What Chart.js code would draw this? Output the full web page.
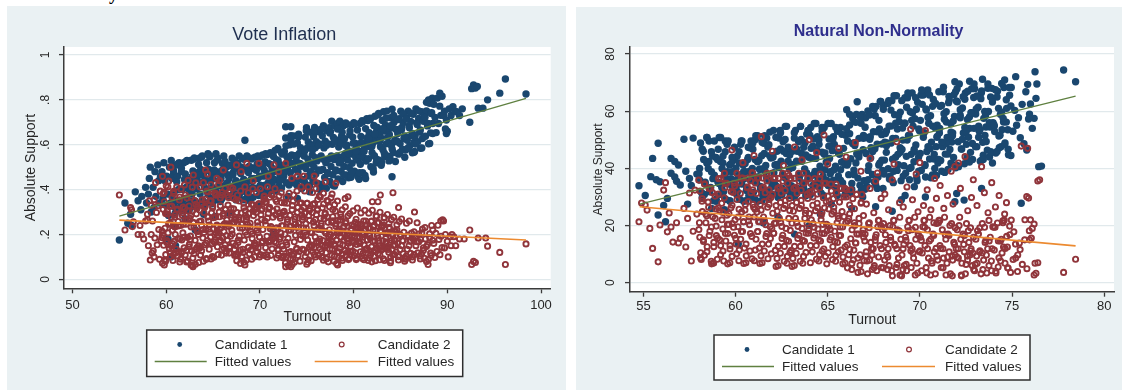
<!DOCTYPE html>
<html>
<head>
<meta charset="utf-8">
<script src="https://cdn.jsdelivr.net/npm/chart.js@4.4.1/dist/chart.umd.min.js"></script>
<style>
  html, body { margin: 0; padding: 0; background: #fff; width: 1122px; height: 390px; overflow: hidden; }
  .panel { position: absolute; background: #eaf1f3; }
  #p1 { left: 7px; top: 6px; width: 559px; height: 384px; }
  #p2 { left: 576px; top: 7px; width: 546px; height: 383px; }
  .panel canvas { position: absolute; left: 0; top: 0; }
  #cut { position: absolute; left: 109px; top: -15px; font: bold 18px "Liberation Serif", serif; line-height: 18px; color: #000; }
</style>
</head>
<body>
<div id="cut">y</div>
<div class="panel" id="p1"><canvas id="c1" width="559" height="384" style="width:559px;height:384px"></canvas></div>
<div class="panel" id="p2"><canvas id="c2" width="546" height="383" style="width:546px;height:383px"></canvas></div>
<script>
// ---- shared labels ----
const seriesLabels = ['Candidate 1', 'Candidate 2', 'Fitted values', 'Fitted values'];
const xTitle = 'Turnout';
const yTitle = 'Absolute Support';

// ---- Vote Inflation panel ----
const voteTitle = 'Vote Inflation';
const voteXTicks = [50, 60, 70, 80, 90, 100];
const voteYTicks = [0, 0.2, 0.4, 0.6, 0.8, 1];
const voteYLabels = ['0', '.2', '.4', '.6', '.8', '1'];
const voteFit1 = [[55.0, .282], [98.4, .807]];
const voteFit2 = [[55.0, .264], [98.4, .175]];
const voteCand1 = [
[55.0,.175],[55.6,.34],[55.9,.25],[56.3,.24],[56.2,.29],[56.7,.39],[57.0,.35],[57.4,.37],[57.3,.31],[57.8,.41],[57.9,.34],[58.2,.45],[58.3,.50],[58.1,.38],[58.4,.30],
[58.6,.41],[58.7,.32],[58.8,.48],[58.9,.37],[59.1,.51],[59.2,.44],[59.3,.34],[59.4,.46],
[59.55,.48],[59.65,.36],[59.75,.52],[59.85,.44],[59.95,.33],[60.05,.46],[60.15,.38],[60.25,.285],[60.35,.50],[60.45,.34],[60.2,.18],[60.5,.10],
[60.54,.53],[60.62,.45],[60.71,.335],[60.79,.47],[60.87,.39],[60.96,.295],[61.04,.51],[61.12,.35],[61.21,.46],[61.29,.40],[61.37,.52],[61.46,.32],[61.0,.15],[60.8,.24],
[61.54,.345],[61.62,.48],[61.71,.40],[61.79,.305],[61.87,.52],[61.96,.36],[62.04,.47],[62.12,.41],[62.21,.53],[62.29,.33],[62.37,.445],[62.46,.39],
[62.54,.416],[62.62,.325],[62.69,.531],[62.77,.38],[62.85,.483],[62.92,.428],[63.0,.541],[63.08,.349],[63.15,.459],[63.23,.404],[63.31,.44],[63.38,.339],[63.46,.512],
[63.54,.54],[63.62,.38],[63.69,.49],[63.77,.43],[63.85,.55],[63.92,.35],[64.0,.465],[64.08,.41],[64.15,.445],[64.23,.34],[64.31,.52],[64.38,.395],[64.46,.56],
[64.54,.49],[64.62,.44],[64.69,.55],[64.77,.36],[64.85,.47],[64.92,.41],[65.0,.45],[65.08,.35],[65.15,.52],[65.23,.40],[65.31,.56],[65.38,.48],[65.46,.37],
[65.54,.54],[65.62,.366],[65.69,.468],[65.77,.417],[65.85,.45],[65.92,.358],[66.0,.516],[66.08,.406],[66.15,.55],[66.23,.476],[66.31,.38],[66.38,.498],[66.46,.428],
[66.54,.466],[66.62,.42],[66.71,.45],[66.79,.366],[66.87,.51],[66.96,.41],[67.04,.54],[67.12,.474],[67.21,.386],[67.29,.494],[67.37,.43],[67.46,.354],[66.7,.295],
[67.54,.367],[67.62,.518],[67.71,.413],[67.79,.55],[67.87,.48],[67.96,.388],[68.04,.50],[68.12,.434],[68.21,.354],[68.29,.535],[68.37,.40],[68.46,.493],[68.4,.62],
[68.54,.42],[68.62,.55],[68.71,.484],[68.79,.396],[68.87,.504],[68.96,.44],[69.04,.364],[69.12,.536],[69.21,.41],[69.29,.496],[69.37,.45],[69.46,.544],[68.9,.35],
[69.54,.494],[69.62,.406],[69.71,.514],[69.79,.45],[69.87,.374],[69.96,.546],[70.04,.42],[70.12,.506],[70.21,.46],[70.29,.554],[70.37,.394],[70.46,.486],
[70.54,.524],[70.62,.46],[70.71,.384],[70.79,.556],[70.87,.43],[70.96,.516],[71.04,.47],[71.12,.564],[71.21,.404],[71.29,.496],[71.37,.45],[71.46,.48],[71.4,.20],
[71.54,.394],[71.62,.575],[71.69,.443],[71.77,.533],[71.85,.485],[71.92,.583],[72.0,.415],[72.08,.512],[72.15,.464],[72.23,.495],[72.31,.407],[72.38,.558],[72.46,.453],
[72.54,.46],[72.61,.57],[72.68,.51],[72.75,.63],[72.82,.43],[72.89,.545],[72.96,.49],[73.04,.525],[73.11,.42],[73.18,.60],[73.25,.475],[73.32,.64],[73.39,.555],[73.46,.445],[72.75,.68],[73.3,.68],[73.0,.37],
[73.53,.517],[73.6,.639],[73.67,.431],[73.73,.551],[73.8,.491],[73.87,.53],[73.93,.421],[74.0,.608],[74.07,.478],[74.13,.647],[74.2,.561],[74.27,.447],[74.33,.587],[74.4,.504],[74.47,.405],[74.0,.36],
[74.53,.444],[74.59,.572],[74.66,.508],[74.72,.55],[74.78,.432],[74.84,.634],[74.91,.494],[74.97,.676],[75.03,.584],[75.09,.46],[75.16,.612],[75.22,.522],[75.28,.416],[75.34,.656],[75.41,.48],[75.47,.60],[75.3,.39],
[75.53,.515],[75.59,.555],[75.66,.442],[75.72,.636],[75.78,.50],[75.84,.677],[75.91,.587],[75.97,.469],[76.03,.614],[76.09,.528],[76.16,.425],[76.22,.658],[76.28,.488],[76.34,.604],[76.41,.542],[76.47,.668],[76.4,.40],
[76.53,.55],[76.59,.424],[76.66,.64],[76.72,.49],[76.78,.685],[76.84,.586],[76.91,.454],[76.97,.616],[77.03,.52],[77.09,.406],[77.16,.664],[77.22,.475],[77.28,.604],[77.34,.535],[77.41,.676],[77.47,.436],
[77.53,.658],[77.59,.503],[77.66,.705],[77.72,.602],[77.78,.466],[77.84,.633],[77.91,.534],[77.97,.416],[78.03,.683],[78.09,.488],[78.16,.621],[78.22,.55],[78.28,.695],[78.34,.447],[78.41,.59],[78.47,.519],
[78.53,.705],[78.59,.61],[78.66,.482],[78.72,.639],[78.78,.546],[78.84,.436],[78.91,.685],[78.97,.503],[79.03,.627],[79.09,.56],[79.16,.697],[79.22,.465],[79.28,.598],[79.34,.532],[79.41,.575],[79.47,.453],
[79.53,.499],[79.59,.644],[79.66,.558],[79.72,.455],[79.78,.688],[79.84,.518],[79.91,.634],[79.97,.572],[80.03,.698],[80.09,.482],[80.16,.607],[80.22,.545],[80.28,.585],[80.34,.472],[80.41,.666],[80.47,.531],
[80.53,.556],[80.59,.446],[80.66,.695],[80.72,.513],[80.78,.637],[80.84,.571],[80.91,.707],[80.97,.475],[81.03,.608],[81.09,.542],[81.16,.585],[81.22,.463],[81.28,.672],[81.34,.527],[81.41,.716],[81.47,.62],
[81.53,.708],[81.59,.538],[81.66,.654],[81.72,.592],[81.78,.718],[81.84,.502],[81.91,.627],[81.97,.565],[82.03,.605],[82.09,.492],[82.16,.686],[82.22,.551],[82.28,.727],[82.34,.637],[82.41,.519],[82.47,.664],
[82.53,.677],[82.6,.617],[82.67,.739],[82.73,.531],[82.8,.651],[82.87,.591],[82.93,.63],[83.0,.521],[83.07,.708],[83.13,.578],[83.2,.747],[83.27,.661],[83.33,.547],[83.4,.687],[83.47,.604],
[83.54,.75],[83.61,.55],[83.68,.665],[83.75,.608],[83.82,.645],[83.89,.54],[83.96,.72],[84.04,.595],[84.11,.758],[84.18,.675],[84.25,.565],[84.32,.70],[84.39,.62],[84.46,.525],[84.1,.457],
[84.54,.668],[84.62,.617],[84.71,.65],[84.79,.558],[84.87,.716],[84.96,.606],[85.04,.749],[85.12,.676],[85.21,.58],[85.29,.698],[85.37,.628],[85.46,.544],
[85.55,.576],[85.64,.72],[85.73,.62],[85.82,.75],[85.91,.684],[86.0,.596],[86.09,.704],[86.18,.64],[86.27,.564],[86.36,.736],[86.45,.61],[86.5,.57],
[86.55,.637],[86.65,.76],[86.75,.698],[86.85,.614],[86.95,.717],[87.05,.656],[87.15,.584],[87.25,.747],[87.35,.628],[87.45,.709],
[87.56,.73],[87.67,.638],[87.78,.751],[87.89,.684],[88.0,.604],[88.11,.785],[88.22,.653],[88.33,.743],[88.44,.695],[88.4,.807],[88.0,.80],
[88.56,.78],[88.69,.722],[88.81,.654],[88.94,.808],[89.06,.695],[89.19,.772],[89.31,.731],[89.44,.816],[89.2,.83],
[89.6,.73],[89.7,.75],[89.8,.67],[89.9,.65],[89.9,.71],[90.0,.66],[90.2,.76],[90.4,.73],
[90.6,.77],[90.8,.75],[91.0,.747],[91.3,.73],[91.6,.76],[92.4,.70],[92.6,.85],[92.8,.866],[93.0,.853],[93.2,.86],[93.3,.763],[93.8,.763],[94.3,.80],[95.6,.83],[96.2,.893],[98.4,.826],
[63.1,.22],[64.0,.29],[62.0,.27],[65.2,.28],[69.8,.33],
[60.62,.373],[60.78,.485],[60.95,.32],[61.12,.435],[61.28,.515],[61.45,.403],
[61.62,.495],[61.78,.33],[61.95,.445],[62.12,.525],[62.28,.413],[62.45,.308],
[62.62,.349],[62.78,.459],[62.95,.536],[63.12,.428],[63.28,.327],[63.45,.478],
[63.62,.465],[63.78,.545],[63.95,.433],[64.12,.328],[64.28,.485],[64.45,.38],
[64.62,.546],[64.78,.438],[64.95,.337],[65.12,.488],[65.28,.388],[65.45,.532],
[65.62,.439],[65.78,.347],[65.95,.485],[66.12,.393],[66.28,.525],[66.45,.424],
[66.62,.416],[66.78,.506],[66.95,.374],[67.12,.466],[67.28,.53],[67.45,.44],
[67.62,.514],[67.78,.375],[67.95,.472],[68.12,.539],[68.28,.445],[68.45,.356],
[68.62,.384],[68.78,.476],[68.95,.54],[69.12,.45],[69.28,.366],[69.45,.492],
[69.62,.486],[69.78,.55],[69.95,.46],[70.12,.376],[70.28,.502],[70.45,.418],
[70.62,.56],[70.78,.47],[70.95,.386],[71.12,.512],[71.28,.428],[71.45,.548],
[71.62,.485],[71.78,.396],[71.95,.529],[72.12,.44],[72.28,.566],[72.45,.47],
[72.62,.483],[72.78,.595],[72.95,.43],[73.12,.545],[73.28,.625],[73.45,.513],
[73.62,.603],[73.78,.431],[73.95,.551],[74.12,.634],[74.28,.517],[74.45,.408],
[74.62,.444],[74.78,.572],[74.95,.662],[75.12,.536],[75.28,.418],[75.45,.595],
[75.62,.577],[75.78,.663],[75.95,.542],[76.12,.428],[76.28,.598],[76.45,.485],
[76.62,.67],[76.78,.535],[76.95,.409],[77.12,.598],[77.28,.472],[77.45,.652],
[77.62,.55],[77.78,.419],[77.95,.615],[78.12,.484],[78.28,.67],[78.45,.528],
[78.62,.526],[78.78,.656],[78.95,.465],[79.12,.598],[79.28,.691],[79.45,.56],
[79.62,.661],[79.78,.482],[79.95,.607],[80.12,.693],[80.28,.572],[80.45,.458],
[80.62,.475],[80.78,.608],[80.95,.701],[81.12,.571],[81.28,.449],[81.45,.631],
[81.62,.627],[81.78,.713],[81.95,.592],[82.12,.478],[82.28,.648],[82.45,.535],
[82.62,.734],[82.78,.617],[82.95,.508],[83.12,.672],[83.28,.562],[83.45,.718],
[83.62,.633],[83.78,.528],[83.95,.685],[84.12,.58],[84.28,.73],[84.45,.615],
[84.62,.613],[84.78,.712],[84.95,.566],[85.12,.668],[85.28,.738],[85.45,.639],
[85.62,.716],[85.78,.584],[85.95,.676],[86.12,.74],[86.28,.65],[86.45,.566],
[86.62,.603],[86.78,.69],[86.95,.751],[87.12,.666],[87.28,.586],[87.45,.705],
[87.62,.722],[87.78,.789],[87.95,.695],[88.12,.606],[88.28,.739],[88.45,.65]
];
const voteCand2 = [
[55.0,.376],[55.6,.22],[56.2,.32],[56.3,.31],[56.5,.257],[56.4,.235],[57.0,.20],[57.4,.20],[57.6,.18],[57.8,.26],[58.0,.29],[58.0,.265],[58.2,.35],[58.4,.33],[58.3,.086],[58.5,.117],[58.7,.10],[57.2,.24],[58.1,.15],[58.4,.20],
[58.54,.26],[58.62,.127],[58.71,.355],[58.79,.184],[58.87,.431],[58.96,.298],[59.04,.154],[59.12,.328],[59.21,.222],[59.29,.089],[59.37,.393],[59.46,.173],
[59.53,.186],[59.6,.459],[59.67,.312],[59.73,.152],[59.8,.346],[59.87,.228],[59.93,.081],[60.0,.417],[60.07,.173],[60.13,.291],[60.2,.207],[60.27,.249],[60.33,.136],[60.4,.325],[60.47,.102],[60.5,.50],[59.6,.072],[59.8,.064],
[60.53,.15],[60.59,.327],[60.66,.219],[60.72,.084],[60.78,.392],[60.84,.169],[60.91,.277],[60.97,.20],[61.03,.238],[61.09,.134],[61.16,.308],[61.22,.104],[61.28,.258],[61.34,.123],[61.41,.354],[61.47,.18],
[61.53,.09],[61.59,.402],[61.66,.175],[61.72,.285],[61.78,.207],[61.84,.246],[61.91,.14],[61.97,.316],[62.03,.109],[62.09,.265],[62.16,.129],[62.22,.363],[62.28,.187],[62.34,.441],[62.41,.304],[62.47,.156],
[62.53,.272],[62.59,.193],[62.66,.233],[62.72,.126],[62.78,.304],[62.84,.095],[62.91,.253],[62.97,.114],[63.03,.351],[63.09,.174],[63.16,.43],[63.22,.292],[63.28,.142],[63.34,.324],[63.41,.213],[63.47,.075],[62.9,.465],[62.65,.064],[62.86,.056],
[63.53,.138],[63.59,.309],[63.66,.108],[63.72,.26],[63.78,.127],[63.84,.355],[63.91,.184],[63.97,.431],[64.03,.298],[64.09,.154],[64.16,.328],[64.22,.222],[64.28,.089],[64.34,.393],[64.41,.173],[64.47,.279],[64.2,.487],[64.4,.47],
[64.53,.26],[64.59,.134],[64.66,.35],[64.72,.188],[64.78,.422],[64.84,.296],[64.91,.159],[64.97,.325],[65.03,.224],[65.09,.098],[65.16,.386],[65.22,.177],[65.28,.278],[65.34,.206],[65.41,.242],[65.47,.145],[65.4,.45],
[65.53,.195],[65.59,.423],[65.66,.30],[65.72,.167],[65.78,.328],[65.84,.23],[65.91,.108],[65.97,.388],[66.03,.185],[66.09,.283],[66.16,.213],[66.22,.248],[66.28,.153],[66.34,.311],[66.41,.125],[66.47,.265],[66.1,.487],[65.7,.44],[66.4,.117],
[66.53,.175],[66.6,.331],[66.67,.236],[66.73,.117],[66.8,.389],[66.87,.192],[66.93,.287],[67.0,.219],[67.07,.253],[67.13,.161],[67.2,.314],[67.27,.134],[67.33,.27],[67.4,.151],[67.47,.355],[67.5,.51],[66.9,.41],
[67.53,.083],[67.6,.375],[67.67,.164],[67.73,.266],[67.8,.193],[67.87,.229],[67.93,.131],[68.0,.295],[68.07,.102],[68.13,.248],[68.2,.12],[68.27,.339],[68.33,.175],[68.4,.412],[68.47,.284],[68.0,.48],[68.4,.064],
[68.54,.267],[68.61,.199],[68.68,.233],[68.75,.141],[68.82,.294],[68.89,.114],[68.96,.25],[69.04,.131],[69.11,.335],[69.18,.182],[69.25,.403],[69.32,.284],[69.39,.155],[69.46,.311],[68.6,.517],[69.3,.44],
[69.54,.149],[69.61,.298],[69.68,.123],[69.75,.255],[69.82,.14],[69.89,.338],[69.96,.189],[70.04,.404],[70.11,.288],[70.18,.163],[70.25,.314],[70.32,.222],[70.39,.107],[70.46,.371],[69.9,.517],[69.7,.123],
[70.54,.26],[70.61,.141],[70.68,.345],[70.75,.192],[70.82,.413],[70.89,.294],[70.96,.165],[71.04,.321],[71.11,.226],[71.18,.107],[71.25,.379],[71.32,.182],[71.39,.277],[71.46,.209],[71.5,.51],[70.9,.46],
[71.54,.189],[71.61,.404],[71.68,.288],[71.75,.163],[71.82,.314],[71.89,.222],[71.96,.107],[72.04,.371],[72.11,.179],[72.18,.272],[72.25,.206],[72.32,.239],[72.39,.149],[72.46,.298],[71.8,.095],[72.4,.10],[72.0,.48],
[72.53,.135],[72.6,.303],[72.67,.201],[72.73,.073],[72.8,.365],[72.87,.154],[72.93,.256],[73.0,.183],[73.07,.219],[73.13,.121],[73.2,.285],[73.27,.092],[73.33,.238],[73.4,.11],[73.47,.329],[72.75,.517],[72.75,.056],[73.3,.056],
[73.53,.088],[73.6,.376],[73.67,.167],[73.73,.268],[73.8,.196],[73.87,.232],[73.93,.135],[74.0,.297],[74.07,.106],[74.13,.25],[74.2,.124],[74.27,.34],[74.33,.178],[74.4,.412],[74.47,.286],[73.4,.45],[74.0,.46],
[74.53,.266],[74.59,.193],[74.66,.229],[74.72,.131],[74.78,.295],[74.84,.102],[74.91,.248],[74.97,.12],[75.03,.339],[75.09,.175],[75.16,.412],[75.22,.284],[75.28,.145],[75.34,.313],[75.41,.211],[75.47,.083],[74.7,.46],[75.0,.067],
[75.53,.149],[75.59,.298],[75.66,.123],[75.72,.255],[75.78,.14],[75.84,.338],[75.91,.189],[75.97,.404],[76.03,.288],[76.09,.163],[76.16,.314],[76.22,.222],[76.28,.107],[76.34,.371],[76.41,.179],[76.47,.272],[75.8,.46],[76.6,.098],[76.0,.43],
[76.53,.238],[76.59,.124],[76.66,.319],[76.72,.173],[76.78,.384],[76.84,.27],[76.91,.147],[76.97,.296],[77.03,.205],[77.09,.091],[77.16,.351],[77.22,.163],[77.28,.254],[77.34,.189],[77.41,.221],[77.47,.134],[77.0,.435],[77.3,.078],
[77.53,.16],[77.59,.364],[77.66,.254],[77.72,.134],[77.78,.279],[77.84,.191],[77.91,.081],[77.97,.333],[78.03,.15],[78.09,.238],[78.16,.175],[78.22,.207],[78.28,.122],[78.34,.263],[78.41,.097],[78.47,.223],[78.1,.428],[78.3,.064],[77.7,.38],
[78.53,.139],[78.59,.264],[78.66,.188],[78.72,.094],[78.78,.31],[78.84,.153],[78.91,.229],[78.97,.175],[79.03,.202],[79.09,.129],[79.16,.25],[79.22,.107],[79.28,.215],[79.34,.121],[79.41,.283],[79.47,.161],[79.4,.368],[79.1,.36],
[79.53,.093],[79.6,.293],[79.67,.148],[79.73,.218],[79.8,.168],[79.87,.193],[79.93,.125],[80.0,.238],[80.07,.105],[80.13,.205],[80.2,.118],[80.27,.268],[80.33,.155],[80.4,.318],[80.47,.23],
[80.53,.212],[80.6,.164],[80.67,.188],[80.73,.123],[80.8,.231],[80.87,.104],[80.93,.20],[81.0,.116],[81.07,.26],[81.13,.152],[81.2,.308],[81.27,.224],[81.33,.133],[81.4,.243],[81.47,.176],
[81.53,.115],[81.6,.228],[81.67,.095],[81.73,.195],[81.8,.108],[81.87,.258],[81.93,.145],[82.0,.308],[82.07,.22],[82.13,.125],[82.2,.24],[82.27,.17],[82.33,.083],[82.4,.283],[82.47,.138],[82.0,.346],[82.6,.346],
[82.54,.195],[82.61,.115],[82.68,.253],[82.75,.149],[82.82,.299],[82.89,.218],[82.96,.131],[83.04,.236],[83.11,.172],[83.18,.092],[83.25,.276],[83.32,.142],[83.39,.207],[83.46,.161],[82.85,.376],
[83.54,.139],[83.61,.289],[83.68,.208],[83.75,.121],[83.82,.226],[83.89,.162],[83.96,.082],[84.04,.266],[84.11,.132],[84.18,.197],[84.25,.151],[84.32,.174],[84.39,.111],[84.46,.215],[84.2,.386],
[84.54,.122],[84.62,.221],[84.71,.161],[84.79,.086],[84.87,.258],[84.96,.133],[85.04,.193],[85.12,.15],[85.21,.172],[85.29,.114],[85.37,.21],[85.46,.097],[84.8,.32],
[85.55,.09],[85.64,.25],[85.73,.134],[85.82,.19],[85.91,.15],[86.0,.17],[86.09,.116],[86.18,.206],[86.27,.10],[86.36,.18],[86.45,.11],[86.5,.30],
[86.55,.187],[86.65,.15],[86.75,.168],[86.85,.118],[86.95,.202],[87.05,.104],[87.15,.178],[87.25,.113],[87.35,.224],[87.45,.14],
[87.56,.094],[87.67,.18],[87.78,.079],[87.89,.155],[88.0,.089],[88.11,.203],[88.22,.117],[88.33,.24],[88.44,.174],
[88.56,.16],[88.67,.097],[88.78,.205],[88.89,.124],[89.0,.241],[89.11,.178],[89.22,.11],[89.33,.192],[89.44,.142],[89.3,.26],[89.5,.265],
[89.6,.26],[89.7,.14],[89.8,.20],[90.0,.17],[90.1,.10],[90.3,.19],[90.4,.15],[90.5,.20],[90.7,.19],[90.9,.15],[91.3,.18],[91.8,.18],[92.4,.22],[92.6,.066],[92.8,.08],[93.0,.075],[93.3,.184],[94.1,.184],[94.3,.148],[95.6,.12],[96.2,.066],[98.4,.158],
[59.62,.199],[59.78,.388],[59.95,.11],[60.12,.304],[60.28,.438],[60.45,.249],
[60.62,.365],[60.78,.111],[60.95,.288],[61.12,.412],[61.28,.238],[61.45,.077],
[61.62,.117],[61.78,.296],[61.95,.421],[62.12,.246],[62.28,.082],[62.45,.327],
[62.62,.284],[62.78,.411],[62.95,.233],[63.12,.067],[63.28,.316],[63.45,.15],
[63.62,.412],[63.78,.241],[63.95,.081],[64.12,.321],[64.28,.161],[64.45,.389],
[64.62,.242],[64.78,.091],[64.95,.318],[65.12,.166],[65.28,.382],[65.45,.217],
[65.62,.206],[65.78,.363],[65.95,.132],[66.12,.293],[66.28,.405],[66.45,.248],
[66.62,.365],[66.78,.141],[66.95,.297],[67.12,.406],[67.28,.253],[67.45,.11],
[67.62,.109],[67.78,.277],[67.95,.394],[68.12,.229],[68.28,.076],[68.45,.306],
[68.62,.277],[68.78,.386],[68.95,.233],[69.12,.09],[69.28,.304],[69.45,.162],
[69.62,.387],[69.78,.239],[69.95,.10],[70.12,.308],[70.28,.169],[70.45,.367],
[70.62,.243],[70.78,.10],[70.95,.314],[71.12,.172],[71.28,.376],[71.45,.219],
[71.62,.199],[71.78,.347],[71.95,.13],[72.12,.281],[72.28,.387],[72.45,.239],
[72.62,.34],[72.78,.099],[72.95,.267],[73.12,.384],[73.28,.219],[73.45,.066],
[73.62,.113],[73.78,.279],[73.95,.394],[74.12,.232],[74.28,.081],[74.45,.308],
[74.62,.277],[74.78,.394],[74.95,.229],[75.12,.076],[75.28,.306],[75.45,.153],
[75.62,.387],[75.78,.239],[75.95,.10],[76.12,.308],[76.28,.169],[76.45,.367],
[76.62,.221],[76.78,.085],[76.95,.29],[77.12,.153],[77.28,.348],[77.45,.199],
[77.62,.169],[77.78,.311],[77.95,.103],[78.12,.248],[78.28,.349],[78.45,.207],
[78.62,.291],[78.78,.112],[78.95,.237],[79.12,.323],[79.28,.202],[79.45,.088],
[79.62,.11],[79.78,.225],[79.95,.305],[80.12,.193],[80.28,.088],[80.45,.245],
[80.62,.219],[80.78,.296],[80.95,.188],[81.12,.087],[81.28,.238],[81.45,.138],
[81.62,.295],[81.78,.183],[81.95,.078],[82.12,.235],[82.28,.13],[82.45,.28],
[82.62,.184],[82.78,.087],[82.95,.232],[83.12,.135],[83.28,.273],[83.45,.167],
[83.62,.146],[83.78,.249],[83.95,.098],[84.12,.203],[84.28,.277],[84.45,.174],
[84.62,.243],[84.78,.101],[84.95,.20],[85.12,.269],[85.28,.172],[85.45,.081],
[85.62,.104],[85.78,.196],[85.95,.26],[86.12,.17],[86.28,.086],[86.45,.212],
[86.62,.192],[86.78,.252],[86.95,.168],[87.12,.091],[87.28,.207],[87.45,.129],
[87.62,.231],[87.78,.146],[87.95,.066],[88.12,.185],[88.28,.106],[88.45,.22],
[59.55,.215],[59.68,.382],[59.8,.086],[59.93,.293],[60.05,.164],[60.18,.412],[60.3,.245],[60.43,.119],
[60.55,.276],[60.68,.159],[60.8,.383],[60.93,.233],[61.05,.119],[61.18,.313],[61.3,.182],[61.43,.367],
[61.55,.24],[61.68,.124],[61.8,.322],[61.93,.189],[62.05,.376],[62.18,.077],[62.3,.264],[62.43,.145],
[62.55,.176],[62.68,.366],[62.8,.062],[62.93,.252],[63.05,.131],[63.18,.334],[63.3,.214],[63.43,.20],
[63.55,.258],[63.68,.143],[63.8,.337],[63.93,.222],[64.05,.209],[64.18,.357],[64.3,.093],[64.43,.278],
[64.55,.223],[64.68,.21],[64.8,.35],[64.93,.102],[65.05,.275],[65.18,.167],[65.3,.375],[65.43,.235],
[65.55,.111],[65.68,.279],[65.8,.174],[65.93,.375],[66.05,.24],[66.18,.138],[66.3,.312],[66.43,.195],
[66.55,.376],[66.68,.245],[66.8,.146],[66.93,.315],[67.05,.202],[67.18,.361],[67.3,.106],[67.43,.265],
[67.55,.298],[67.68,.175],[67.8,.349],[67.93,.071],[68.05,.245],[68.18,.134],[68.3,.32],[68.43,.21],
[68.55,.086],[68.68,.245],[68.8,.144],[68.93,.315],[69.05,.213],[69.18,.202],[69.3,.332],[69.43,.10],
[69.55,.317],[69.68,.219],[69.8,.208],[69.93,.334],[70.05,.11],[70.18,.266],[70.3,.168],[70.43,.356],
[70.55,.342],[70.68,.11],[70.8,.273],[70.93,.171],[71.05,.366],[71.18,.235],[71.3,.136],[71.43,.305],
[71.55,.168],[71.68,.356],[71.8,.23],[71.93,.135],[72.05,.297],[72.18,.188],[72.3,.342],[72.43,.096],
[72.55,.105],[72.68,.288],[72.8,.165],[72.93,.339],[73.05,.061],[73.18,.235],[73.3,.124],[73.43,.31],
[73.55,.349],[73.68,.076],[73.8,.247],[73.93,.138],[74.05,.321],[74.18,.213],[74.3,.20],[74.43,.34],
[74.55,.134],[74.68,.32],[74.8,.21],[74.93,.197],[75.05,.339],[75.18,.087],[75.3,.263],[75.43,.153],
[75.55,.208],[75.68,.334],[75.8,.11],[75.93,.266],[76.05,.168],[76.18,.356],[76.3,.23],[76.43,.135],
[76.55,.248],[76.68,.152],[76.8,.336],[76.93,.213],[77.05,.119],[77.18,.279],[77.3,.171],[77.43,.323],
[77.55,.198],[77.68,.107],[77.8,.261],[77.93,.158],[78.05,.304],[78.18,.07],[78.3,.216],[78.43,.123],
[78.55,.157],[78.68,.278],[78.8,.084],[78.93,.205],[79.05,.128],[79.18,.258],[79.3,.181],[79.43,.172],
[79.55,.194],[79.68,.124],[79.8,.242],[79.93,.172],[80.05,.164],[80.18,.254],[80.3,.094],[80.43,.206],
[80.55,.167],[80.68,.16],[80.8,.245],[80.93,.093],[81.05,.20],[81.18,.133],[81.3,.26],[81.43,.175],
[81.55,.084],[81.68,.196],[81.8,.126],[81.93,.26],[82.05,.17],[82.18,.102],[82.3,.218],[82.43,.14],
[82.55,.251],[82.68,.17],[82.8,.109],[82.93,.213],[83.05,.143],[83.18,.242],[83.3,.084],[83.43,.183],
[83.55,.203],[83.68,.133],[83.8,.232],[83.93,.074],[84.05,.173],[84.18,.11],[84.3,.216],[84.43,.153]
];

// ---- Natural Non-Normality panel ----
const natTitle = 'Natural Non-Normality';
const natXTicks = [55, 60, 65, 70, 75, 80];
const natYTicks = [0, 20, 40, 60, 80];
const natYLabels = ['0', '20', '40', '60', '80'];
const natFit1 = [[54.8, 27.5], [78.45, 65.3]];
const natFit2 = [[54.8, 26.6], [78.45, 12.9]];
const natCand1 = [
[54.76,33.9],[55.1,30.5],[55.8,48.8],[55.5,43.5],[55.4,37.1],[55.7,36],[55.9,35.3],[55.8,23.7],[56.2,21.3],[56.5,43.5],[56.7,42.4],[56.9,41.2],[56.5,38.3],[56.7,37],[56.8,35.5],[57,34.2],[56.3,29.5],[57.3,39],[57.5,36.5],[57.6,34],[57.7,50.6],[57.2,50.2],[57.9,38],[57.4,27.5],[56.1,27],
[58.05,40],[58.15,31.6],[58.25,46],[58.35,35.2],[58.45,50.8],[58.55,42.4],[58.65,33.3],[58.75,44.3],[58.85,37.6],[58.95,29.2],
[59.04,35.2],[59.11,50.8],[59.18,42.4],[59.25,33.3],[59.32,44.3],[59.39,37.6],[59.46,29.2],[59.54,48.4],[59.61,34.5],[59.68,41.2],[59.75,36.4],[59.82,38.8],[59.89,32.3],[59.96,43.1],
[60.03,33.3],[60.09,44.3],[60.16,37.6],[60.22,29.2],[60.28,48.4],[60.34,34.5],[60.41,41.2],[60.47,36.4],[60.53,38.8],[60.59,32.3],[60.66,43.1],[60.72,30.4],[60.78,47.2],[60.84,49.6],[60.91,40],[60.97,31.6],
[61.03,29.3],[61.08,50.1],[61.14,35],[61.19,42.3],[61.25,37.1],[61.31,39.7],[61.36,32.7],[61.42,44.4],[61.47,30.6],[61.53,48.8],[61.58,51.4],[61.64,41],[61.7,31.9],[61.75,47.5],[61.81,35.8],[61.86,52.7],[61.92,43.6],[61.97,33.7],
[62.03,43.9],[62.08,38.5],[62.14,41.2],[62.19,33.9],[62.25,46],[62.31,31.7],[62.36,50.6],[62.42,53.3],[62.47,42.5],[62.53,33],[62.58,49.3],[62.64,37.1],[62.7,54.7],[62.75,45.2],[62.81,34.9],[62.86,47.4],[62.92,39.8],[62.97,30.4],
[63.03,33.9],[63.08,46],[63.14,31.7],[63.19,50.6],[63.25,53.3],[63.31,42.5],[63.36,33],[63.42,49.3],[63.47,37.1],[63.53,54.7],[63.58,45.2],[63.64,34.9],[63.7,47.4],[63.75,39.8],[63.81,30.4],[63.86,52],[63.92,36.3],[63.97,43.9],
[64.03,51.6],[64.08,54.3],[64.14,43.5],[64.19,34],[64.25,50.3],[64.31,38.1],[64.36,55.7],[64.42,46.2],[64.47,35.9],[64.53,48.4],[64.58,40.8],[64.64,31.4],[64.7,53],[64.75,37.3],[64.81,44.9],[64.86,39.5],[64.92,42.2],[64.97,34.9],
[65.03,34],[65.08,50.3],[65.14,38.1],[65.19,55.7],[65.25,46.2],[65.31,35.9],[65.36,48.4],[65.42,40.8],[65.47,31.4],[65.53,53],[65.58,37.3],[65.64,44.9],[65.7,39.5],[65.75,42.2],[65.81,34.9],[65.86,47],[65.92,32.7],[65.97,51.6],
[66.03,60.5],[66.08,49.6],[66.14,37.8],[66.19,52.1],[66.25,43.4],[66.31,32.6],[66.36,57.4],[66.42,39.4],[66.47,48],[66.53,41.9],[66.58,45],[66.64,36.6],[66.7,50.5],[66.75,34.1],[66.81,55.8],[66.86,58.9],[66.92,46.5],[66.97,35.7],[66.6,63.3],
[67.03,54.4],[67.08,45.2],[67.13,33.7],[67.18,60.1],[67.23,40.9],[67.28,50.2],[67.33,43.6],[67.38,46.9],[67.43,37.9],[67.48,52.8],[67.53,35.3],[67.58,58.4],[67.63,61.7],[67.68,48.5],[67.73,37],[67.78,56.8],[67.83,41.9],[67.88,63.4],[67.93,51.8],[67.98,39.3],
[68.03,62.1],[68.08,42.9],[68.13,52.2],[68.18,45.6],[68.23,48.9],[68.28,39.9],[68.33,54.8],[68.38,37.3],[68.43,60.4],[68.48,63.7],[68.53,50.5],[68.58,39],[68.63,58.8],[68.68,43.9],[68.73,65.4],[68.78,53.8],[68.83,41.3],[68.88,56.4],[68.93,47.2],[68.98,35.7],
[69.03,46.6],[69.08,49.9],[69.13,40.9],[69.18,55.8],[69.23,38.3],[69.28,61.4],[69.33,64.7],[69.38,51.5],[69.43,40],[69.48,59.8],[69.53,44.9],[69.58,66.4],[69.63,54.8],[69.68,42.3],[69.73,57.4],[69.78,48.2],[69.83,36.7],[69.88,63.1],[69.93,43.9],[69.98,53.2],
[70.03,56.8],[70.08,39.3],[70.13,62.4],[70.18,65.7],[70.23,52.5],[70.28,41],[70.33,60.8],[70.38,45.9],[70.43,67.4],[70.48,55.8],[70.53,43.3],[70.58,58.4],[70.63,49.2],[70.68,37.7],[70.73,64.1],[70.78,44.9],[70.83,54.2],[70.88,47.6],[70.93,50.9],[70.98,41.9],
[71.03,66.8],[71.08,54],[71.13,42.8],[71.18,62],[71.23,47.6],[71.28,68.4],[71.33,57.2],[71.38,45],[71.43,59.8],[71.48,50.8],[71.53,39.6],[71.58,65.2],[71.63,46.6],[71.68,55.6],[71.73,49.2],[71.78,52.4],[71.83,43.8],[71.88,58.2],[71.93,41.2],[71.98,63.6],
[72.03,63.3],[72.08,49.3],[72.14,69.5],[72.19,58.6],[72.25,46.8],[72.31,61.1],[72.36,52.4],[72.42,41.6],[72.47,66.4],[72.53,48.4],[72.58,57.1],[72.64,50.9],[72.7,54],[72.75,45.6],[72.81,59.5],[72.86,43.1],[72.92,64.8],[72.97,67.9],
[73.03,59],[73.09,47.6],[73.16,61.4],[73.22,53],[73.28,42.5],[73.34,66.5],[73.41,49.1],[73.47,57.5],[73.53,51.5],[73.59,54.5],[73.66,46.4],[73.72,59.9],[73.78,44],[73.84,65],[73.91,68],[73.97,56],
[74.04,54.8],[74.12,45.4],[74.21,67],[74.29,51.3],[74.37,58.9],[74.46,53.5],[74.54,56.2],[74.62,48.9],[74.71,61],[74.79,46.7],[74.87,65.6],[74.96,68.3],
[75.05,53],[75.15,60.3],[75.25,55.1],[75.35,57.7],[75.45,50.7],[75.55,62.4],[75.65,48.6],[75.75,66.8],[75.85,69.4],[75.95,59],
[75.2,72.1],[76.25,73.8],[76.35,69.5],[76.45,40.6],[76.6,40.8],[76.1,54],[76,62.5],[76.3,64.5],[76.2,57.5],[75.9,57.3],[75.5,27.8],[75.8,46.4],[77.8,74.4],[78.45,70.3],[73.35,42.9],[73.35,33],[72.4,28.9],[71.9,28.3],[72,31.2],[74.4,47.6],[73.4,71.2],[72.7,70.5],[71.9,70.3],[74.6,70.9],
[60.15,13.5],[61.5,21],[63.2,17],[64.6,24],[65.2,27.5],[66.3,26],[67.6,26.6],[68.5,25],[69.2,30.5],[68,33],[69.7,33.6],[70.3,30],[70.9,37.5],[69,29],[62.3,23],[59.4,25.5],[58.7,26],[66.9,30],[64,20],
[58.06,35.9],[58.19,46.7],[58.31,30.9],[58.44,41.9],[58.56,49.6],[58.69,38.8],[58.81,28.7],[58.94,43.8],
[59.06,46.7],[59.19,30.9],[59.31,41.9],[59.44,49.6],[59.56,38.8],[59.69,28.7],[59.81,43.8],[59.94,35.9],
[60.06,30.9],[60.19,41.9],[60.31,49.6],[60.44,38.8],[60.56,28.7],[60.69,43.8],[60.81,35.9],[60.94,46.7],
[61.06,43.1],[61.19,51.4],[61.31,39.7],[61.44,28.8],[61.56,45.2],[61.69,36.6],[61.81,48.3],[61.94,31.1],
[62.06,53.3],[62.19,41.2],[62.31,29.8],[62.44,46.8],[62.56,37.9],[62.69,50.1],[62.81,32.2],[62.94,44.7],
[63.06,41.2],[63.19,29.8],[63.31,46.8],[63.44,37.9],[63.56,50.1],[63.69,32.2],[63.81,44.7],[63.94,53.3],
[64.06,30.8],[64.19,47.8],[64.31,38.9],[64.44,51.1],[64.56,33.2],[64.69,45.7],[64.81,54.3],[64.94,42.2],
[65.06,47.8],[65.19,38.9],[65.31,51.1],[65.44,33.2],[65.56,45.7],[65.69,54.3],[65.81,42.2],[65.94,30.8],
[66.06,41.2],[66.19,55.2],[66.31,34.7],[66.44,49],[66.56,58.9],[66.69,45],[66.81,31.9],[66.94,51.5],
[67.06,57.7],[67.19,36],[67.31,51.1],[67.44,61.7],[67.56,46.9],[67.69,33],[67.81,53.8],[67.94,42.9],
[68.06,38],[68.19,53.1],[68.31,63.7],[68.44,48.9],[68.56,35],[68.69,55.8],[68.81,44.9],[68.94,59.7],
[69.06,54.1],[69.19,64.7],[69.31,49.9],[69.44,36],[69.56,56.8],[69.69,45.9],[69.81,60.7],[69.94,39],
[70.06,65.7],[70.19,50.9],[70.31,37],[70.44,57.8],[70.56,46.9],[70.69,61.7],[70.81,40],[70.94,55.1],
[71.06,52.4],[71.19,39],[71.31,59.1],[71.44,48.6],[71.56,63],[71.69,41.8],[71.81,56.6],[71.94,66.8],
[72.06,40.9],[72.19,60.5],[72.31,50.2],[72.44,64.2],[72.56,43.7],[72.69,58],[72.81,67.9],[72.94,54],
[73.06,60.8],[73.19,50.9],[73.31,64.4],[73.44,44.6],[73.56,58.4],[73.69,68],[73.81,54.5],[73.94,41.9],
[74.06,52.9],[74.19,65],[74.31,47.2],[74.44,59.7],[74.56,68.3],[74.69,56.2],[74.81,44.8],[74.94,61.8],
[58.02,38.1],[58.1,48.9],[58.19,29.7],[58.27,43.1],[58.35,34.7],[58.44,50.8],[58.52,40],[58.6,31.8],[58.69,45.8],[58.77,36.4],[58.85,49.6],[58.94,28.5],
[59.02,43.1],[59.1,34.7],[59.19,50.8],[59.27,40],[59.35,31.8],[59.44,45.8],[59.52,36.4],[59.6,49.6],[59.69,28.5],[59.77,41.7],[59.85,33.3],[59.94,47.4],
[60.02,40],[60.1,31.8],[60.19,45.8],[60.27,36.4],[60.35,49.6],[60.44,28.5],[60.52,41.7],[60.6,33.3],[60.69,47.4],[60.77,39],[60.85,38.1],[60.94,48.9],
[61.02,37.1],[61.1,51.4],[61.19,28.5],[61.27,42.8],[61.35,33.7],[61.44,49.1],[61.52,40],[61.6,38.9],[61.69,50.6],[61.77,29.8],[61.85,44.4],[61.94,35.3],
[62.02,44.4],[62.1,34.9],[62.19,50.9],[62.27,41.4],[62.35,40.3],[62.44,52.5],[62.52,30.9],[62.6,46],[62.69,36.6],[62.77,54.7],[62.85,42.5],[62.94,33.3],
[63.02,41.4],[63.1,40.3],[63.19,52.5],[63.27,30.9],[63.35,46],[63.44,36.6],[63.52,54.7],[63.6,42.5],[63.69,33.3],[63.77,49],[63.85,38.5],[63.94,53.3],
[64.02,31.9],[64.1,47],[64.19,37.6],[64.27,55.7],[64.35,43.5],[64.44,34.3],[64.52,50],[64.6,39.5],[64.69,54.3],[64.77,30.5],[64.85,45.4],[64.94,35.9],
[65.02,55.7],[65.1,43.5],[65.19,34.3],[65.27,50],[65.35,39.5],[65.44,54.3],[65.52,30.5],[65.6,45.4],[65.69,35.9],[65.77,51.9],[65.85,42.4],[65.94,41.3],
[66.02,53.9],[66.1,41.9],[66.19,58.9],[66.27,31.6],[66.35,48.7],[66.44,37.8],[66.52,56.1],[66.6,45.3],[66.69,44],[66.77,58],[66.85,33.2],[66.94,50.5],
[67.02,32.7],[67.1,50.8],[67.19,39.3],[67.27,58.7],[67.35,47.2],[67.44,45.9],[67.52,60.7],[67.6,34.3],[67.69,52.8],[67.77,41.2],[67.85,63.4],[67.94,48.5],
[68.02,60.7],[68.1,49.2],[68.19,47.9],[68.27,62.7],[68.35,36.3],[68.44,54.8],[68.52,43.2],[68.6,65.4],[68.69,50.5],[68.77,39.3],[68.85,58.4],[68.94,45.6],
[69.02,63.7],[69.1,37.3],[69.19,55.8],[69.27,44.2],[69.35,66.4],[69.44,51.5],[69.52,40.3],[69.6,59.4],[69.69,46.6],[69.77,64.7],[69.85,35.7],[69.94,53.8],
[70.02,45.2],[70.1,67.4],[70.19,52.5],[70.27,41.3],[70.35,60.4],[70.44,47.6],[70.52,65.7],[70.6,36.7],[70.69,54.8],[70.77,43.3],[70.85,62.7],[70.94,51.2],
[71.02,43.1],[71.1,61.7],[71.19,49.2],[71.27,66.8],[71.35,38.6],[71.44,56.2],[71.52,45],[71.6,63.9],[71.69,52.7],[71.77,51.4],[71.85,65.8],[71.94,40.2],
[72.02,67.9],[72.1,40.6],[72.19,57.7],[72.27,46.8],[72.35,65.1],[72.44,54.3],[72.52,53],[72.6,67],[72.69,42.2],[72.77,59.5],[72.85,48.7],[72.94,69.5],
[73.02,47.6],[73.1,65.3],[73.19,54.8],[73.27,53.6],[73.35,67.1],[73.44,43.1],[73.52,59.9],[73.6,49.4],[73.69,69.5],[73.77,56],[73.85,45.8],[73.94,63.2],
[74.02,55.3],[74.1,67.5],[74.19,45.9],[74.27,61],[74.35,51.6],[74.44,69.7],[74.52,57.5],[74.6,48.3],[74.69,64],[74.77,53.5],[74.85,68.3],[74.94,44.5]
];
const natCand2 = [
[54.76,21.3],[54.9,27.9],[55.2,25.4],[55.1,27.2],[55.8,7.3],[55.5,12],[55.35,19],[55.9,20.2],[56.2,35],[56.1,32.4],[56.3,17.8],[56.4,24.4],[56.5,19.5],[56.6,14.2],[56.8,21],[57,15.5],[56.9,13.9],[57.6,7.6],[58.8,6.9],[58.1,8.6],[57.5,31.4],[57.8,32.4],[57.2,26],[57.4,22.5],[57.7,18],[57.9,24],[57.3,12.5],
[58.04,21],[58.11,10.5],[58.18,28.5],[58.25,15],[58.32,34.5],[58.39,24],[58.46,12.6],[58.54,26.4],[58.61,18],[58.68,7.5],[58.75,31.5],[58.82,14.1],[58.89,22.5],[58.96,16.5],
[59.03,15.6],[59.08,36.4],[59.14,25.2],[59.19,13],[59.25,27.8],[59.31,18.8],[59.36,7.6],[59.42,33.2],[59.47,14.6],[59.53,23.6],[59.58,17.2],[59.64,20.4],[59.7,11.8],[59.75,26.2],[59.81,9.2],[59.86,31.6],[59.92,34.8],[59.97,22],
[60.03,13.5],[60.08,29.1],[60.13,19.6],[60.18,7.7],[60.23,34.9],[60.28,15.2],[60.33,24.7],[60.38,17.9],[60.43,21.3],[60.48,12.1],[60.53,27.4],[60.58,9.4],[60.63,33.2],[60.68,36.6],[60.73,23],[60.78,11.1],[60.83,31.5],[60.88,16.2],[60.93,38.3],[60.98,26.4],
[61.02,7.7],[61.07,34.9],[61.11,15.2],[61.16,24.7],[61.2,17.9],[61.25,21.3],[61.29,12.1],[61.34,27.4],[61.38,9.4],[61.43,33.2],[61.47,36.6],[61.52,23],[61.56,11.1],[61.61,31.5],[61.65,16.2],[61.7,38.3],[61.74,26.4],[61.79,13.5],[61.83,29.1],[61.88,19.6],[61.92,29.8],[61.97,18.9],
[62.02,24.3],[62.07,17.3],[62.11,20.8],[62.16,11.3],[62.2,27],[62.25,8.5],[62.29,33],[62.34,36.5],[62.38,22.5],[62.43,10.3],[62.47,31.3],[62.52,15.5],[62.56,38.3],[62.61,26],[62.65,12.7],[62.7,28.8],[62.74,19],[62.79,6.8],[62.83,34.8],[62.88,14.5],[62.92,29.5],[62.97,18.3],
[63.02,11.3],[63.07,27],[63.11,8.5],[63.16,33],[63.2,36.5],[63.25,22.5],[63.29,10.3],[63.34,31.3],[63.38,15.5],[63.43,38.3],[63.47,26],[63.52,12.7],[63.56,28.8],[63.61,19],[63.65,6.8],[63.7,34.8],[63.74,14.5],[63.79,24.3],[63.83,17.3],[63.88,20.8],[63.92,29.5],[63.97,18.3],
[64.02,31.6],[64.07,34.8],[64.11,22],[64.16,10.8],[64.2,30],[64.25,15.6],[64.29,36.4],[64.34,25.2],[64.38,13],[64.43,27.8],[64.47,18.8],[64.52,7.6],[64.56,33.2],[64.61,14.6],[64.65,23.6],[64.7,17.2],[64.74,20.4],[64.79,11.8],[64.83,26.2],[64.88,9.2],[64.92,28.4],[64.97,18.2],
[65.03,10.5],[65.08,28.5],[65.13,15],[65.18,34.5],[65.23,24],[65.28,12.6],[65.33,26.4],[65.38,18],[65.43,7.5],[65.48,31.5],[65.53,14.1],[65.58,22.5],[65.63,16.5],[65.68,19.5],[65.73,11.4],[65.78,24.9],[65.83,9],[65.88,30],[65.93,33],[65.98,21],
[66.03,32.5],[66.08,21.6],[66.14,9.8],[66.19,24.1],[66.25,15.4],[66.31,4.6],[66.36,29.4],[66.42,11.4],[66.47,20],[66.53,13.9],[66.58,17],[66.64,8.6],[66.7,22.5],[66.75,6.1],[66.81,27.8],[66.86,30.9],[66.92,18.5],[66.97,7.7],
[67.03,17],[67.09,10.8],[67.16,3.1],[67.22,20.7],[67.28,7.9],[67.34,14.1],[67.41,9.7],[67.47,11.9],[67.53,6],[67.59,15.9],[67.66,4.2],[67.72,19.6],[67.78,21.8],[67.84,13],[67.91,5.3],[67.97,18.5],
[68.03,20.7],[68.09,7.9],[68.16,14.1],[68.22,9.7],[68.28,11.9],[68.34,6],[68.41,15.9],[68.47,4.2],[68.53,19.6],[68.59,21.8],[68.66,13],[68.72,5.3],[68.78,18.5],[68.84,8.6],[68.91,22.9],[68.97,15.2],
[69.03,9.7],[69.09,11.9],[69.16,6],[69.22,15.9],[69.28,4.2],[69.34,19.6],[69.41,21.8],[69.47,13],[69.53,5.3],[69.59,18.5],[69.66,8.6],[69.72,22.9],[69.78,15.2],[69.84,6.8],[69.91,17],[69.97,10.8],
[70.03,15.9],[70.09,4.2],[70.16,19.6],[70.22,21.8],[70.28,13],[70.34,5.3],[70.41,18.5],[70.47,8.6],[70.53,22.9],[70.59,15.2],[70.66,6.8],[70.72,17],[70.78,10.8],[70.84,3.1],[70.91,20.7],[70.97,7.9],
[71.03,21.8],[71.09,13],[71.16,5.3],[71.22,18.5],[71.28,8.6],[71.34,22.9],[71.41,15.2],[71.47,6.8],[71.53,17],[71.59,10.8],[71.66,3.1],[71.72,20.7],[71.78,7.9],[71.84,14.1],[71.91,9.7],[71.97,11.9],
[72.03,18.5],[72.09,8.6],[72.16,22.9],[72.22,15.2],[72.28,6.8],[72.34,17],[72.41,10.8],[72.47,3.1],[72.53,20.7],[72.59,7.9],[72.66,14.1],[72.72,9.7],[72.78,11.9],[72.84,6],[72.91,15.9],[72.97,4.2],
[73.04,15.2],[73.11,6.8],[73.18,17],[73.25,10.8],[73.32,3.1],[73.39,20.7],[73.46,7.9],[73.54,14.1],[73.61,9.7],[73.68,11.9],[73.75,6],[73.82,15.9],[73.89,4.2],[73.96,19.6],
[74.04,11.4],[74.12,4],[74.21,20.9],[74.29,8.7],[74.37,14.6],[74.46,10.4],[74.54,12.5],[74.62,6.8],[74.71,16.2],[74.79,5.1],[74.87,19.8],[74.96,21.9],
[75.06,8.1],[75.19,13.5],[75.31,9.7],[75.44,11.6],[75.56,6.4],[75.69,15],[75.81,4.9],[75.94,18.2],
[67.1,27.5],[67.3,33],[67.5,24.5],[67.7,38.4],[67.9,29.5],[67.3,43.5],[67.6,35.5],
[68.1,31],[68.3,25.5],[68.5,36],[68.75,49.3],[68.9,28],[68.6,41.5],
[69.1,26.5],[69.3,33.5],[69.5,53.7],[69.6,29],[69.8,38],[69.9,24.8],
[70,42],[70.2,27],[70.3,53.2],[70.4,32.5],[70.6,25.5],[70.8,36.5],[70.9,29.5],
[71.1,34],[71.3,26],[71.5,30.5],[71.7,39],[71.9,40.6],[72.1,41.9],[71.8,27.5],
[72.2,33],[72.45,44.1],[72.6,25.2],[72.8,29.8],[72.9,36],
[73.1,27],[73.35,40.6],[73.5,31.5],[73.7,24.5],[73.9,35],
[74.1,26.5],[74.3,30.5],[74.5,21.7],[74.7,28],[74.6,24],
[75.5,47.8],[75.85,47],[75.9,29.6],[75.8,30.1],[76.5,36],[76.4,35.6],[76,22],[76.1,19],[76.05,15.6],[75.95,15],[75.4,13.9],[76.4,7],[76.2,2.7],[75.1,17.8],[75.2,8.6],[75.3,3.9],[76.3,3.3],[76.25,6.8],[77.8,3.6],[78.45,8.2],[75.7,22],[76.2,20.5],
[58,35.9],[59.8,46.4],[60.4,42],[61.4,51.1],[61,44.5],[62,46],[62.6,41],[63.2,47.5],[63.6,43],[64,50],[64.8,51.7],[64.4,45.5],[65,41.5],[65.6,47],[66,44],[66.5,49],[66.8,39],[60.9,38.5],[62.9,37.5],[64.6,38],[59.4,38.3],[61.7,37.6],
[58.06,15.9],[58.19,29.4],[58.31,9.6],[58.44,23.4],[58.56,33],[58.69,19.5],[58.81,6.9],[58.94,25.8],
[59.06,31],[59.19,9.8],[59.31,24.6],[59.44,34.8],[59.56,20.4],[59.69,7],[59.81,27.1],[59.94,16.6],
[60.06,10.1],[60.19,25.7],[60.31,36.6],[60.44,21.3],[60.56,7],[60.69,28.4],[60.81,17.2],[60.94,32.5],
[61.06,25.7],[61.19,36.6],[61.31,21.3],[61.44,7],[61.56,28.4],[61.69,17.2],[61.81,32.5],[61.94,10.1],
[62.06,36.5],[62.19,20.8],[62.31,6],[62.44,28.1],[62.56,16.6],[62.69,32.3],[62.81,9.2],[62.94,25.3],
[63.06,20.8],[63.19,6],[63.31,28.1],[63.44,16.6],[63.56,32.3],[63.69,9.2],[63.81,25.3],[63.94,36.5],
[64.06,7],[64.19,27.1],[64.31,16.6],[64.44,31],[64.56,9.8],[64.69,24.6],[64.81,34.8],[64.94,20.4],
[65.06,25.8],[65.19,15.9],[65.31,29.4],[65.44,9.6],[65.56,23.4],[65.69,33],[65.81,19.5],[65.94,6.9],
[66.06,13.2],[66.19,27.2],[66.31,6.7],[66.44,21],[66.56,30.9],[66.69,17],[66.81,3.9],[66.94,23.5],
[67.08,9.3],[67.25,19.2],[67.42,4.6],[67.58,14.8],[67.75,21.8],[67.92,11.9],
[68.08,19.2],[68.25,4.6],[68.42,14.8],[68.58,21.8],[68.75,11.9],[68.92,2.7],
[69.08,4.6],[69.25,14.8],[69.42,21.8],[69.58,11.9],[69.75,2.7],[69.92,16.5],
[70.08,14.8],[70.25,21.8],[70.42,11.9],[70.58,2.7],[70.75,16.5],[70.92,9.3],
[71.08,21.8],[71.25,11.9],[71.42,2.7],[71.58,16.5],[71.75,9.3],[71.92,19.2],
[72.08,11.9],[72.25,2.7],[72.42,16.5],[72.58,9.3],[72.75,19.2],[72.92,4.6],
[73.08,9.3],[73.25,19.2],[73.42,4.6],[73.58,14.8],[73.75,21.8],[73.92,11.9],
[74.08,19.4],[74.25,5.5],[74.42,15.2],[74.58,21.9],[74.75,12.5],[74.92,3.6],
[58.01,18.6],[58.07,32.1],[58.14,8.1],[58.2,24.9],[58.26,14.4],[58.32,34.5],[58.39,21],[58.45,10.8],[58.51,28.2],[58.57,16.5],[58.64,33],[58.7,6.6],[58.76,23.1],[58.82,12.6],[58.89,30.3],[58.95,19.8],
[59.01,8.2],[59.07,26.2],[59.14,15],[59.2,36.4],[59.26,22],[59.32,11.1],[59.39,29.7],[59.45,17.2],[59.51,34.8],[59.57,6.6],[59.64,24.2],[59.7,13],[59.76,31.9],[59.82,20.7],[59.89,19.4],[59.95,33.8],
[60.01,15.5],[60.07,38.3],[60.14,23],[60.2,11.4],[60.26,31.2],[60.32,17.9],[60.39,36.6],[60.45,6.7],[60.51,25.4],[60.57,13.5],[60.64,33.5],[60.7,21.6],[60.76,20.3],[60.82,35.6],[60.89,8.4],[60.95,27.4],
[61.01,23],[61.07,11.4],[61.14,31.2],[61.2,17.9],[61.26,36.6],[61.32,6.7],[61.39,25.4],[61.45,13.5],[61.51,33.5],[61.57,21.6],[61.64,20.3],[61.7,35.6],[61.76,8.4],[61.82,27.4],[61.89,15.5],[61.95,38.3],
[62.01,30.9],[62.07,17.3],[62.14,36.5],[62.2,5.7],[62.26,25],[62.32,12.7],[62.39,33.4],[62.45,21.1],[62.51,19.7],[62.57,35.5],[62.64,7.5],[62.7,27.1],[62.76,14.8],[62.82,38.3],[62.89,22.5],[62.95,10.6],
[63.01,36.5],[63.07,5.7],[63.14,25],[63.2,12.7],[63.26,33.4],[63.32,21.1],[63.39,19.7],[63.45,35.5],[63.51,7.5],[63.57,27.1],[63.64,14.8],[63.7,38.3],[63.76,22.5],[63.82,10.6],[63.89,30.9],[63.95,17.3],
[64.01,24.2],[64.07,13],[64.14,31.9],[64.2,20.7],[64.26,19.4],[64.32,33.8],[64.39,8.2],[64.45,26.2],[64.51,15],[64.57,36.4],[64.64,22],[64.7,11.1],[64.76,29.7],[64.82,17.2],[64.89,34.8],[64.95,6.6],
[65.01,30.3],[65.07,19.8],[65.14,18.6],[65.2,32.1],[65.26,8.1],[65.32,24.9],[65.39,14.4],[65.45,34.5],[65.51,21],[65.57,10.8],[65.64,28.2],[65.7,16.5],[65.76,33],[65.82,6.6],[65.89,23.1],[65.95,12.6],
[66.01,30],[66.07,5.2],[66.14,22.5],[66.2,11.7],[66.26,32.5],[66.32,18.5],[66.39,8],[66.45,25.9],[66.51,13.9],[66.57,30.9],[66.64,3.6],[66.7,20.7],[66.76,9.8],[66.82,28.1],[66.89,17.3],[66.95,16],
[67.01,14.6],[67.13,7.6],[67.26,21],[67.38,12],[67.51,5.2],[67.63,16.8],[67.76,9],[67.88,20],
[68.01,5.2],[68.13,16.8],[68.26,9],[68.38,20],[68.51,2.4],[68.63,13.4],[68.76,6.4],[68.88,18.2],
[69.01,2.4],[69.13,13.4],[69.26,6.4],[69.38,18.2],[69.51,11.2],[69.63,10.4],[69.76,19.4],[69.88,3.4],
[70.01,11.2],[70.13,10.4],[70.26,19.4],[70.38,3.4],[70.51,14.6],[70.63,7.6],[70.76,21],[70.88,12],
[71.01,21],[71.13,12],[71.26,5.2],[71.38,16.8],[71.51,9],[71.63,20],[71.76,2.4],[71.88,13.4],
[72.01,9],[72.13,20],[72.26,2.4],[72.38,13.4],[72.51,6.4],[72.63,18.2],[72.76,11.2],[72.88,10.4],
[73.01,6.4],[73.13,18.2],[73.26,11.2],[73.38,10.4],[73.51,19.4],[73.63,3.4],[73.76,14.6],[73.88,7.6],
[74.01,19.4],[74.13,3.4],[74.26,14.6],[74.38,7.6],[74.51,21],[74.63,12],[74.76,5.2],[74.88,16.8]
];

// ---- styling ----
const FONT = '"Liberation Sans", Arial, Helvetica, sans-serif';
const NAVY = '#1a476f';
const MAROON = '#90353b';
const GREEN = '#5f8040';
const ORANGE = '#ec8a30';
const AXIS = '#3b3b3b';
const GRID = '#e1e9ec';
const TEXT = '#262626';

// white plot region behind the marks
const plotRegion = {
  id: 'plotRegion',
  beforeDraw(chart) {
    const { ctx, chartArea: a } = chart;
    ctx.save();
    ctx.fillStyle = '#ffffff';
    ctx.fillRect(a.left, a.top, a.right - a.left, a.bottom - a.top);
    ctx.restore();
  }
};

// rotated y tick labels, title and boxed two-column legend
function panelDecor(p) {
  return {
    id: 'panelDecor',
    afterDraw(chart) {
      const ctx = chart.ctx;
      const ys = chart.scales.y;
      ctx.save();
      ctx.fillStyle = TEXT;
      ctx.font = `12px ${FONT}`;
      ctx.textAlign = 'center';
      ctx.textBaseline = 'middle';
      p.yTicks.forEach((v, i) => {
        ctx.save();
        ctx.translate(p.yLabelX, ys.getPixelForValue(v));
        ctx.rotate(-Math.PI / 2);
        ctx.fillText(p.yLabels[i], 0, 0);
        ctx.restore();
      });
      ctx.font = p.titleFont;
      ctx.fillStyle = p.titleColor;
      ctx.fillText(p.title, p.titleX, p.titleY);
      const L = p.legend;
      ctx.fillStyle = '#ffffff';
      ctx.fillRect(L.x, L.y, L.w, L.h);
      ctx.strokeStyle = '#2e2e2e';
      ctx.lineWidth = 1.5;
      ctx.strokeRect(L.x, L.y, L.w, L.h);
      ctx.font = `13.5px ${FONT}`;
      ctx.textAlign = 'left';
      chart.data.datasets.forEach((d, i) => {
        const col = i % 2, row = Math.floor(i / 2);
        const cy = L.y + (row ? 31.5 : 14.5);
        if (d.showLine) {
          ctx.strokeStyle = d.borderColor;
          ctx.lineWidth = 1.6;
          ctx.beginPath();
          ctx.moveTo(L.x + (col ? 168 : 8), cy);
          ctx.lineTo(L.x + (col ? 221 : 60), cy);
          ctx.stroke();
        } else {
          ctx.beginPath();
          ctx.arc(L.x + (col ? 195 : 33), cy, 2.4, 0, Math.PI * 2);
          if (i === 0) { ctx.fillStyle = d.backgroundColor; ctx.fill(); }
          else { ctx.strokeStyle = d.borderColor; ctx.lineWidth = 1.2; ctx.stroke(); }
        }
        ctx.fillStyle = TEXT;
        ctx.fillText(d.label, L.x + (col ? 231 : 68), cy + 0.5);
      });
      ctx.restore();
    }
  };
}

function stataScatter(canvasId, p) {
  return new Chart(document.getElementById(canvasId), {
    type: 'scatter',
    data: {
      datasets: [
        { label: seriesLabels[0], data: p.c1, backgroundColor: NAVY, borderColor: NAVY, pointRadius: 3.7, pointBorderWidth: 0, order: 4 },
        { label: seriesLabels[1], data: p.c2, backgroundColor: 'rgba(0,0,0,0)', borderColor: MAROON, pointRadius: 2.6, pointBorderWidth: 1.9, order: 3 },
        { label: seriesLabels[2], data: p.f1, showLine: true, borderColor: GREEN, backgroundColor: GREEN, borderWidth: 1.3, pointRadius: 0, order: 2 },
        { label: seriesLabels[3], data: p.f2, showLine: true, borderColor: ORANGE, backgroundColor: ORANGE, borderWidth: 1.6, pointRadius: 0, order: 1 }
      ]
    },
    options: {
      responsive: false,
      animation: false,
      devicePixelRatio: 1,
      events: [],
      layout: { padding: p.pad },
      plugins: { legend: { display: false }, tooltip: { enabled: false } },
      scales: {
        x: {
          type: 'linear', min: p.xMin, max: p.xMax,
          afterBuildTicks: s => { s.ticks = p.xTicks.map(v => ({ value: v })); },
          afterFit: s => { s.height = 40; },
          ticks: { autoSkip: false, maxRotation: 0, padding: p.xTickPad, color: TEXT, font: { family: FONT, size: 13 }, callback: v => String(v) },
          grid: { drawOnChartArea: false, tickLength: 5, tickColor: AXIS, tickWidth: 1.3 },
          border: { color: AXIS, width: 1.5 },
          title: { display: true, text: xTitle, color: TEXT, font: { family: FONT, size: 14 }, padding: { top: 0, bottom: 3 } }
        },
        y: {
          type: 'linear', min: p.yMin, max: p.yMax,
          afterBuildTicks: s => { s.ticks = p.yTicks.map(v => ({ value: v })); },
          afterFit: s => { s.width = p.yAxisW; },
          ticks: { display: false },
          grid: { color: GRID, lineWidth: 1.2, tickLength: 5, tickColor: AXIS, tickWidth: 1.3 },
          border: { color: AXIS, width: 1.5 },
          title: { display: true, text: yTitle, color: TEXT, font: { family: FONT, size: p.yTitleSize }, padding: { top: p.yTitlePad, bottom: 0 } }
        }
      }
    },
    plugins: [plotRegion, panelDecor(p)]
  });
}

stataScatter('c1', {
  c1: voteCand1, c2: voteCand2, f1: voteFit1, f2: voteFit2,
  xTicks: voteXTicks, yTicks: voteYTicks, yLabels: voteYLabels,
  xMin: 49.093, xMax: 101.035, yMin: -0.040, yMax: 1.0357,
  pad: { top: 41, left: 0, right: 15.3, bottom: 61.7 },
  yAxisW: 57, yLabelX: 38.5, xTickPad: 4, yTitleSize: 14, yTitlePad: 16,
  title: voteTitle, titleFont: `18px ${FONT}`, titleColor: '#1f2f4f', titleX: 277.3, titleY: 29,
  legend: { x: 139.7, y: 324, w: 316, h: 46.5 }
});

stataScatter('c2', {
  c1: natCand1, c2: natCand2, f1: natFit1, f2: natFit2,
  xTicks: natXTicks, yTicks: natYTicks, yLabels: natYLabels,
  xMin: 54.273, xMax: 80.534, yMin: -3.15, yMax: 82.47,
  pad: { top: 40, left: 0, right: 8, bottom: 58.3 },
  yAxisW: 54, yLabelX: 35, xTickPad: 2, yTitleSize: 12, yTitlePad: 15,
  title: natTitle, titleFont: `bold 16px ${FONT}`, titleColor: '#2e2e8c', titleX: 302.6, titleY: 25,
  legend: { x: 138, y: 328, w: 316, h: 45 }
});
</script>
</body>
</html>
